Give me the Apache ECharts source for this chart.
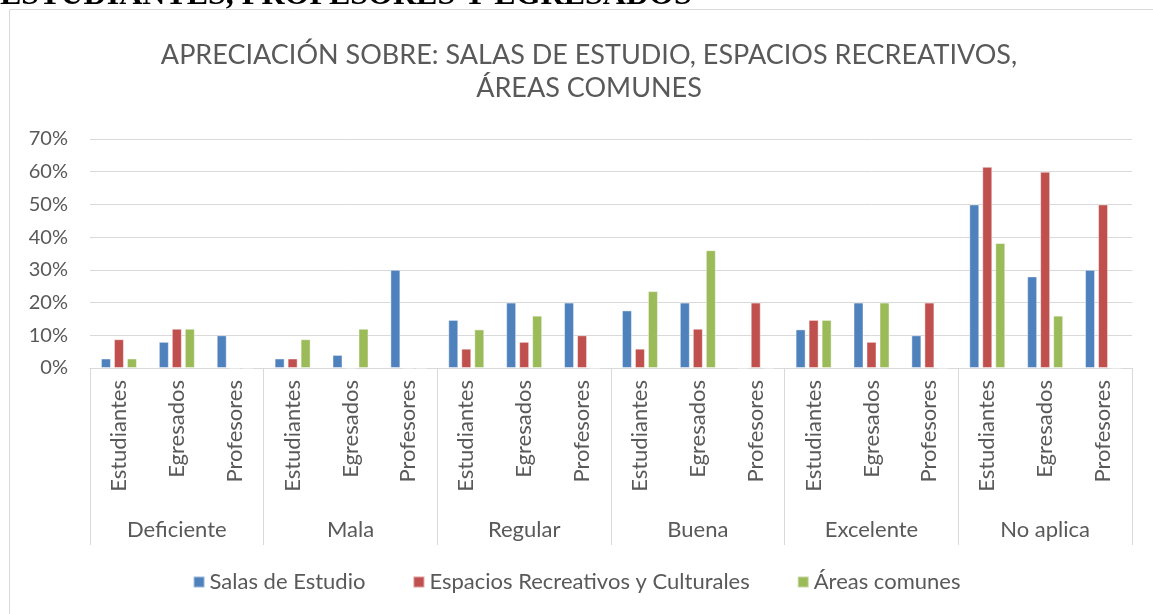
<!DOCTYPE html>
<html>
<head>
<meta charset="utf-8">
<script src="https://cdn.jsdelivr.net/npm/echarts@6/dist/echarts.min.js"></script>
<style>
  html, body { margin: 0; padding: 0; background: #fff; }
  #chart { width: 1153px; height: 614px; }
</style>
</head>
<body>
<div id="chart"></div>
<script>
// Rating groups and respondent types (two-level category axis)
const groups = ['Deficiente', 'Mala', 'Regular', 'Buena', 'Excelente', 'No aplica'];
const roles = ['Estudiantes', 'Egresados', 'Profesores'];

// Percentages per group, in role order (Estudiantes, Egresados, Profesores)
const salasEstudio = [2.9, 8, 10, 2.9, 4, 30, 14.7, 20, 20, 17.6, 20, 0, 11.8, 20, 10, 50, 28, 30];
const espaciosRecreativos = [8.8, 12, 0, 2.9, 0, 0, 5.9, 8, 10, 5.9, 12, 20, 14.7, 8, 20, 61.5, 60, 50];
const areasComunes = [2.9, 12, 0, 8.8, 12, 0, 11.8, 16, 0, 23.5, 36, 0, 14.7, 20, 0, 38.2, 16, 0];

const yTicks = { min: 0, max: 70, interval: 10 };

const seriesNames = ['Salas de Estudio', 'Espacios Recreativos y Culturales', 'Áreas comunes'];
const seriesColors = ['#4F81BD', '#C0504D', '#9BBB59'];
const seriesData = [salasEstudio, espaciosRecreativos, areasComunes];

const roleAxis = [];
groups.forEach(() => roles.forEach(r => roleAxis.push(r)));

const FONT = 'Lato, "Open Sans", sans-serif';
const TEXT = '#595959';
const LINE = '#d9d9d9';

const chart = echarts.init(document.getElementById('chart'), null, { renderer: 'canvas' });

chart.setOption({
  animation: false,
  backgroundColor: '#fff',
  textStyle: { fontFamily: FONT },
  graphic: [
    {
      type: 'text',
      left: 0,
      top: -20,
      style: {
        text: 'ESTUDIANTES, PROFESORES Y EGRESADOS',
        font: 'bold 32px "Liberation Serif", "DejaVu Serif", serif',
        fill: '#000'
      }
    },
    {
      type: 'rect',
      shape: { x: 9.5, y: 9.5, width: 1300, height: 800 },
      style: { fill: 'none', stroke: LINE, lineWidth: 1 },
      silent: true
    }
  ],
  title: {
    text: 'APRECIACIÓN SOBRE: SALAS DE ESTUDIO, ESPACIOS RECREATIVOS,\nÁREAS COMUNES',
    left: 584,
    top: 34,
    textAlign: 'center',
    textStyle: {
      fontFamily: FONT,
      fontSize: 27,
      fontWeight: 'normal',
      color: TEXT,
      lineHeight: 33
    }
  },
  legend: {
    top: 566,
    left: 'center',
    icon: 'rect',
    itemWidth: 11,
    itemHeight: 11,
    itemGap: 47,
    textStyle: { fontFamily: FONT, fontSize: 22, color: TEXT },
    data: seriesNames
  },
  grid: { left: 90, right: 21, top: 139, bottom: 246, containLabel: false },
  xAxis: [
    {
      type: 'category',
      data: roleAxis,
      position: 'bottom',
      axisLine: { show: true, lineStyle: { color: LINE, width: 1 } },
      axisTick: { show: false },
      axisLabel: {
        interval: 0,
        rotate: 90,
        margin: 12,
        fontFamily: FONT,
        fontSize: 22,
        color: TEXT
      }
    },
    {
      type: 'category',
      data: groups,
      position: 'bottom',
      axisLine: { show: false },
      axisTick: { show: true, interval: 0, length: 177, lineStyle: { color: LINE, width: 1 } },
      axisLabel: {
        interval: 0,
        margin: 151,
        fontFamily: FONT,
        fontSize: 22,
        color: TEXT
      }
    }
  ],
  yAxis: {
    type: 'value',
    min: yTicks.min,
    max: yTicks.max,
    interval: yTicks.interval,
    axisLine: { show: false },
    axisTick: { show: false },
    splitLine: { lineStyle: { color: LINE, width: 1 } },
    axisLabel: {
      formatter: '{value}%',
      margin: 22,
      fontFamily: FONT,
      fontSize: 20,
      color: TEXT
    }
  },
  series: seriesData.map((d, i) => ({
    name: seriesNames[i],
    type: 'bar',
    xAxisIndex: 0,
    data: d,
    barWidth: 10,
    barGap: '30%',
    itemStyle: {
      color: seriesColors[i],
      borderColor: 'rgba(255,255,255,0.45)',
      borderWidth: 1
    }
  }))
});
</script>
</body>
</html>
